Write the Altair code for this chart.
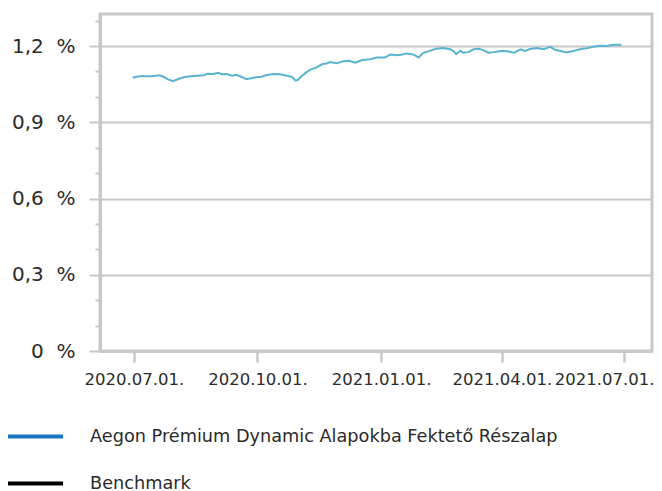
import altair as alt
import pandas as pd

# ---- data ----
dates = [
    "2020-06-30", "2020-07-03", "2020-07-07", "2020-07-10", "2020-07-15",
    "2020-07-20", "2020-07-23", "2020-07-26", "2020-07-30", "2020-08-03",
    "2020-08-07", "2020-08-12", "2020-08-17", "2020-08-22", "2020-08-25",
    "2020-08-29", "2020-09-02", "2020-09-04", "2020-09-08", "2020-09-12",
    "2020-09-15", "2020-09-19", "2020-09-23", "2020-09-27", "2020-09-30",
    "2020-10-04", "2020-10-08", "2020-10-13", "2020-10-18", "2020-10-23",
    "2020-10-27", "2020-10-29", "2020-10-31", "2020-11-03", "2020-11-07",
    "2020-11-10", "2020-11-14", "2020-11-18", "2020-11-22", "2020-11-24",
    "2020-11-29", "2020-12-04", "2020-12-08", "2020-12-13", "2020-12-18",
    "2020-12-24", "2020-12-29", "2021-01-04", "2021-01-08", "2021-01-13",
    "2021-01-16", "2021-01-20", "2021-01-25", "2021-01-29", "2021-02-01",
    "2021-02-06", "2021-02-11", "2021-02-16", "2021-02-21", "2021-02-24",
    "2021-02-26", "2021-03-01", "2021-03-03", "2021-03-07", "2021-03-11",
    "2021-03-15", "2021-03-18", "2021-03-22", "2021-03-26", "2021-03-31",
    "2021-04-05", "2021-04-10", "2021-04-15", "2021-04-18", "2021-04-22",
    "2021-04-27", "2021-05-02", "2021-05-07", "2021-05-11", "2021-05-14",
    "2021-05-19", "2021-05-24", "2021-05-29", "2021-06-03", "2021-06-08",
    "2021-06-13", "2021-06-18", "2021-06-23", "2021-06-29",
]
values = [
    1.075, 1.079, 1.082, 1.081, 1.081, 1.085, 1.079, 1.070, 1.062, 1.070,
    1.077, 1.081, 1.083, 1.085, 1.091, 1.090, 1.095, 1.089, 1.090, 1.083,
    1.087, 1.079, 1.069, 1.074, 1.077, 1.079, 1.086, 1.090, 1.089, 1.083,
    1.078, 1.065, 1.066, 1.082, 1.099, 1.108, 1.116, 1.128, 1.132, 1.137,
    1.132, 1.140, 1.142, 1.134, 1.145, 1.148, 1.155, 1.155, 1.167, 1.164,
    1.166, 1.171, 1.167, 1.155, 1.171, 1.181, 1.189, 1.192, 1.188, 1.180,
    1.168, 1.181, 1.174, 1.176, 1.187, 1.189, 1.184, 1.174, 1.176, 1.180,
    1.179, 1.174, 1.187, 1.181, 1.188, 1.192, 1.187, 1.197, 1.184, 1.181,
    1.175, 1.180, 1.187, 1.191, 1.197, 1.201, 1.200, 1.205, 1.205,
]
series_names = ["Aegon Prémium Dynamic Alapokba Fektető Részalap", "Benchmark"]
legend_colors = ["#1877c5", "#000000"]
y_tick_values = [0.0, 0.1, 0.2, 0.3, 0.4, 0.5, 0.6, 0.7, 0.8, 0.9, 1.0, 1.1, 1.2, 1.3]
x_tick_dates = [(2020, 7, 1), (2020, 10, 1), (2021, 1, 1), (2021, 4, 1), (2021, 7, 1)]

FONT = "DejaVu Sans"
TEXT = "#2b2b2b"
GRID = "#c8c8c8"
LINE = "#5ab3cf"

df = pd.DataFrame({"date": pd.to_datetime(dates), "value": values})
legend_df = pd.DataFrame({
    "date": pd.to_datetime([dates[0]] * len(series_names)),
    "value": [values[0]] * len(series_names),
    "series": series_names,
})

major = "abs(datum.value / 0.3 - round(datum.value / 0.3)) < 0.001"
nb = "\u00a0\u00a0"
last_tick = "datum.value > time(datetime(2021, 5, 1))"

x_axis = alt.Axis(
    title=None,
    values=[alt.DateTime(year=y, month=m, date=d) for (y, m, d) in x_tick_dates],
    format="%Y.%m.%d.",
    grid=False,
    domainColor=GRID, domainWidth=3,
    tickColor=GRID, tickWidth=2.5, tickSize=11,
    labelFont=FONT, labelFontSize=16.5, labelColor=TEXT,
    labelPadding=9, labelFlush=False, labelOverlap=False,
    labelOffset={"condition": {"test": last_tick, "value": -20}, "value": 0},
)
x_scale = alt.Scale(domain=[alt.DateTime(year=2020, month=6, date=5, hours=17),
                            alt.DateTime(year=2021, month=7, date=21, hours=19)])
y_axis = alt.Axis(
    title=None,
    values=y_tick_values,
    tickCount=len(y_tick_values),
    labelExpr=("(" + major + ") ? (datum.value < 0.01 ? '0" + nb + "%' : "
               "replace(format(datum.value, '.1f'), '.', ',') + '" + nb + "%') : ''"),
    grid=True,
    gridColor=GRID, gridWidth=2,
    gridOpacity={"condition": {"test": major, "value": 1}, "value": 0},
    domainColor=GRID, domainWidth=3,
    tickColor=GRID, tickWidth=2,
    tickSize={"condition": {"test": major, "value": 11}, "value": 5},
    labelFont=FONT, labelFontSize=20, labelColor=TEXT,
    labelPadding=14, labelOverlap=False,
)
y_scale = alt.Scale(domain=[0, 1.326], nice=False, zero=True)

x_enc = alt.X("date:T", scale=x_scale, axis=x_axis)
y_enc = alt.Y("value:Q", scale=y_scale, axis=y_axis)

line = alt.Chart(df).mark_line(strokeWidth=2, color=LINE).encode(x=x_enc, y=y_enc)

legend_layer = alt.Chart(legend_df).mark_line(strokeWidth=4).encode(
    x=x_enc,
    y=y_enc,
    color=alt.Color(
        "series:N",
        scale=alt.Scale(domain=series_names, range=legend_colors),
        legend=alt.Legend(
            title=None, orient="none", legendX=-89, legendY=399,
            direction="vertical",
            symbolType="M-1.33,0H1.33", symbolSize=1849, symbolStrokeWidth=4,
            labelFont=FONT, labelFontSize=17.7, labelColor=TEXT,
            labelOffset=32, rowPadding=14, padding=0, labelLimit=0,
        ),
    ),
)

chart = (
    alt.layer(line, legend_layer)
    .properties(
        width=552, height=337,
        autosize=alt.AutoSizeParams(type="none"),
        padding={"left": 92, "top": 6, "right": 2, "bottom": 140},
    )
    .configure_view(stroke=GRID, strokeWidth=3)
)

chart.save("out.html", embed_options={"renderer": "svg", "actions": False})
